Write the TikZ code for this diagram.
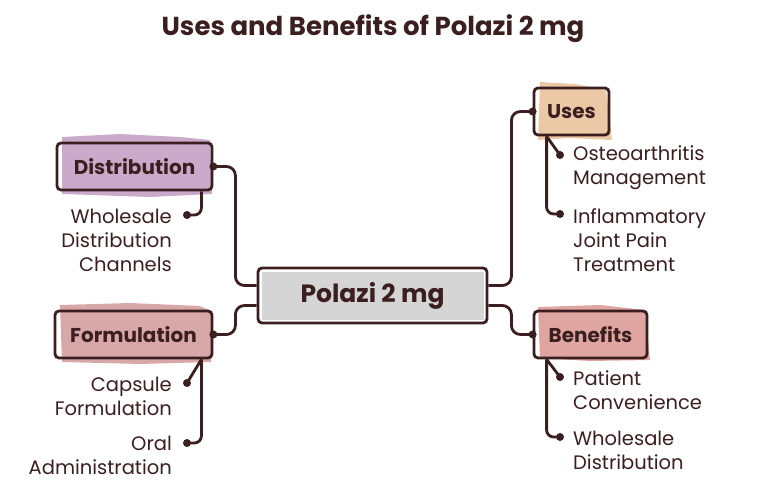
\documentclass[tikz,border=0pt]{standalone}
\usepackage{fontspec}
\setmainfont{Poppins}
\usetikzlibrary{calc}
\definecolor{ink}{HTML}{3B1E1F}
\definecolor{lilac}{HTML}{C9AACB}
\definecolor{rosef}{HTML}{D8A8A8}
\definecolor{tanf}{HTML}{EBC9A6}
\definecolor{pinkf}{HTML}{DFA5A0}
\definecolor{grayf}{HTML}{D5D5D5}
\tikzset{
  box/.style={draw=ink, line width=2.8pt, rounded corners=4pt, text=ink, inner sep=0pt, font=\bfseries\fontsize{20}{22}\selectfont},
  conn/.style={draw=ink, line width=2.8pt, rounded corners=9pt},
  dotc/.style={fill=ink},
  leaf/.style={text=ink, font=\fontsize{19.5}{24}\selectfont, inner sep=0pt},
}
\begin{document}
\begin{tikzpicture}[x=1pt,y=-1pt]
\useasboundingbox (0,0) rectangle (759,494);
% sketchy fills
\fill[lilac] (62,137) -- (120,134) -- (180,137) -- (210,140) -- (212,194) -- (150,197) -- (62,194) -- cycle;
\fill[rosef] (60,305) -- (130,303) -- (200,306) -- (211,311) -- (211,362) -- (140,364) -- (62,362) -- cycle;
\fill[tanf] (540,82) -- (575,84) -- (606,90) -- (612,140) -- (570,138) -- (538,140) -- cycle;
\fill[pinkf] (538,307) -- (600,305) -- (645,310) -- (650,360) -- (590,361) -- (540,358) -- cycle;
\fill[grayf] (262,272) rectangle (484,320);
% title
\node[text=ink, font=\bfseries\fontsize{26}{28}\selectfont] (title) at (373,29) {Uses and Benefits of Polazi 2 mg};
% boxes
\node[box, minimum width=229pt, minimum height=55pt, font=\bfseries\fontsize{25}{28}\selectfont] (c) at (372.5,295.5) {Polazi 2 mg};
\node[box, minimum width=155pt, minimum height=47pt] (dist) at (134.5,166.5) {Distribution};
\node[box, minimum width=157pt, minimum height=47pt] (form) at (133.5,334.5) {Formulation};
\node[box, minimum width=75pt, minimum height=47pt] (uses) at (571.5,111.5) {Uses};
\node[box, minimum width=113pt, minimum height=47pt] (ben) at (590.5,334.5) {Benefits};
% leaves
\node[leaf, anchor=east, align=right] (d1) at (172,240) {Wholesale\\Distribution\\Channels};
\node[leaf, anchor=east, align=right] (f1) at (172,396) {Capsule\\Formulation};
\node[leaf, anchor=east, align=right] (f2) at (172,455) {Oral\\Administration};
\node[leaf, anchor=west, align=left] (u1) at (573,168) {Osteoarthritis\\Management};
\node[leaf, anchor=west, align=left] (u2) at (573,240) {Inflammatory\\Joint Pain\\Treatment};
\node[leaf, anchor=west, align=left] (b1) at (573,390) {Patient\\Convenience};
\node[leaf, anchor=west, align=left] (b2) at (573,450) {Wholesale\\Distribution};
% dot coordinates
\coordinate (dd1) at (187,215);
\coordinate (df1) at (187,383);
\coordinate (df2) at (187,443);
\coordinate (du1) at (560,155);
\coordinate (du2) at (560,214);
\coordinate (db1) at (560,377);
\coordinate (db2) at (560,437);
% main connectors
\draw[conn] (dist.east) -- ++(22,0) |- ($(c.west)+(0,-10)$);
\draw[conn] (form.east) -- ++(22,0) |- ($(c.west)+(0,10)$);
\draw[conn] ($(c.east)+(0,-10)$) -- ++(23,0) |- (uses.west);
\draw[conn] ($(c.east)+(0,10)$) -- ++(23,0) |- (ben.west);
% leaf connectors
\draw[conn, rounded corners=7pt] ($(dist.south east)+(-12,0)$) |- (dd1);
\draw[conn, rounded corners=7pt] ($(form.south east)+(-12,0)$) |- (df2);
\draw[conn] ($(form.south east)+(-12,0)$ |- df1) -- (df1);
\draw[conn, rounded corners=7pt] ($(uses.south west)+(14,0)$) |- (du2);
\draw[conn] ($(uses.south west)+(14,0)$ |- du1) -- (du1);
\draw[conn, rounded corners=7pt] ($(ben.south west)+(14,0)$) |- (db2);
\draw[conn] ($(ben.south west)+(14,0)$ |- db1) -- (db1);
% dots
\foreach \p in {dist.east, form.east, uses.west, ben.west, dd1, df1, df2, du1, du2, db1, db2}
  \fill[dotc] (\p) circle (4pt);
\end{tikzpicture}
\end{document}
